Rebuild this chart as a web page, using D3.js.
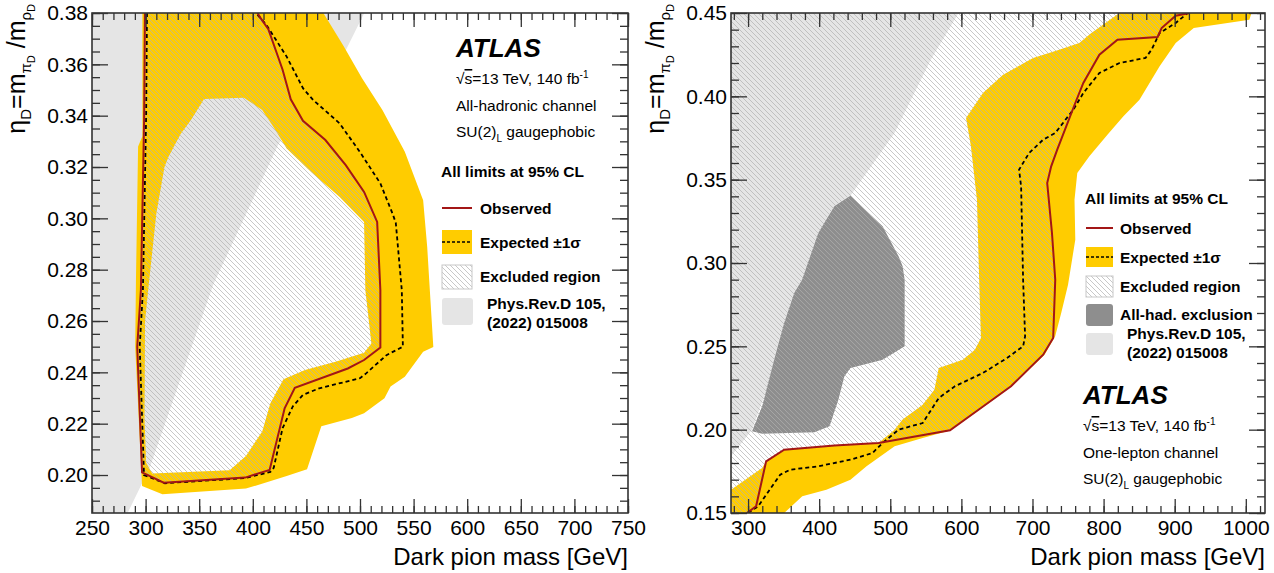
<!DOCTYPE html>
<meta charset="utf-8">
<style>
body { margin: 0; background: white; }
text { font-family: "Liberation Sans", Arial, sans-serif; fill: #000; }
</style>
<body>
<script src="https://cdn.jsdelivr.net/npm/d3@7/dist/d3.min.js"></script>
<script>
// ---- left panel: all-hadronic channel ----
var hadXTicks = [250, 300, 350, 400, 450, 500, 550, 600, 650, 700, 750]
var hadYTicks = [0.20, 0.22, 0.24, 0.26, 0.28, 0.30, 0.32, 0.34, 0.36, 0.38]

// Phys.Rev.D 105 (2022) 015008 exclusion
var hadPrd = [[250, 0.185], [283, 0.185], [304, 0.203], [363, 0.274], [424, 0.329],
    [485, 0.364], [504, 0.38], [250, 0.38]]

var hadObs = [[299.4, 0.38], [298.6, 0.338], [295.6, 0.272], [292.2, 0.25], [296.7, 0.201],
    [316.9, 0.197], [392.9, 0.199], [415.7, 0.202], [429.7, 0.226], [439.2, 0.234],
    [488.6, 0.2415], [503.8, 0.2448], [519, 0.2497], [519, 0.272], [516, 0.2986],
    [503.8, 0.3103], [486.7, 0.3207], [467.7, 0.3305], [446.8, 0.338], [435.4, 0.3464],
    [427.8, 0.3579], [414.5, 0.3737], [407.3, 0.378], [404.3, 0.38]]

var hadExp = [[301.3, 0.38], [300.5, 0.34], [297.5, 0.272], [294.5, 0.25], [298.5, 0.2],
    [318, 0.1968], [392.6, 0.1988], [416.4, 0.2012], [419.5, 0.2028], [427.8, 0.2183],
    [437.3, 0.2267], [446.8, 0.2312], [462, 0.2338], [500, 0.2377], [505.7, 0.2396],
    [524.7, 0.2467], [540, 0.25], [539, 0.272], [533.4, 0.2982], [530.4, 0.3018],
    [519, 0.3136], [500.8, 0.3253], [481, 0.337], [456.3, 0.3461], [446.8, 0.3507],
    [431.6, 0.363], [412.6, 0.3754], [403, 0.38]]

var hadBandOuter = [[297, 0.38], [297, 0.332], [293, 0.328], [291, 0.2757], [290.3, 0.25],
    [296.7, 0.1957], [315.7, 0.1925], [393.6, 0.1947], [431.6, 0.1996], [450.6, 0.2022],
    [463.9, 0.219], [492.4, 0.2222], [503.8, 0.2241], [522.8, 0.2299], [528.5, 0.2345],
    [541.8, 0.2383], [558.9, 0.248], [568.4, 0.2499], [564.6, 0.2757], [562.7, 0.2888],
    [558.9, 0.307], [541.8, 0.3259], [520.9, 0.3422], [501.9, 0.3546], [484.8, 0.367],
    [465.8, 0.38]]

var hadBandInner = [[354.5, 0.3465], [391.7, 0.347], [408.8, 0.3422], [420.2, 0.335],
    [431.6, 0.3272], [454.4, 0.3181], [481, 0.3083], [503.8, 0.2986], [505, 0.272],
    [510.6, 0.2512], [503.8, 0.2476], [477.2, 0.2441], [448.7, 0.2409], [428.6, 0.2373],
    [416.4, 0.228], [408.8, 0.217], [393.6, 0.2074], [378.4, 0.2019], [306.2, 0.2006],
    [300.5, 0.2048], [299, 0.222], [299.5, 0.26], [302.4, 0.272], [310, 0.3018],
    [317.6, 0.32], [321.4, 0.324], [332.8, 0.333], [342.3, 0.3383]]

// ---- right panel: one-lepton channel ----
var lepXTicks = [300, 400, 500, 600, 700, 800, 900, 1000]
var lepYTicks = [0.15, 0.20, 0.25, 0.30, 0.35, 0.40, 0.45]

var lepPrd = [[276, 0.184], [305.6, 0.2], [340, 0.24], [400, 0.29], [444, 0.3404],
    [506, 0.378], [557, 0.422], [596, 0.45], [276, 0.45]]

var lepAllHad = [[444, 0.3404], [489.2, 0.322], [511.7, 0.304], [517.4, 0.298], [520.2, 0.29],
    [520.2, 0.25], [489.2, 0.242], [444, 0.237], [435.5, 0.232], [427, 0.218],
    [414.6, 0.202], [393.2, 0.1984], [319.8, 0.1976], [305.6, 0.199], [319.8, 0.214],
    [336.7, 0.242], [350.8, 0.264], [365, 0.282], [376, 0.29], [398.8, 0.318], [421.4, 0.334]]

var lepObs = [[298.3, 0.15], [311.3, 0.154], [325.4, 0.181], [350.8, 0.188], [421.4, 0.1905],
    [483.5, 0.192], [584, 0.1996], [627.5, 0.213], [669.8, 0.226], [715, 0.245],
    [729.1, 0.255], [732, 0.29], [727.4, 0.318], [720.7, 0.348], [726.3, 0.358],
    [734.8, 0.368], [760.2, 0.396], [771.5, 0.408], [794.1, 0.425], [819.5, 0.434],
    [876, 0.4356], [881.6, 0.441], [901.4, 0.4484], [921.1, 0.45]]

var lepExp = [[300, 0.15], [314.1, 0.154], [345.2, 0.173], [359.3, 0.176], [398.8, 0.178],
    [444, 0.182], [475, 0.186], [489.2, 0.192], [511.7, 0.2], [545.6, 0.204],
    [568.2, 0.219], [590.8, 0.226], [630.3, 0.234], [664.2, 0.243], [686.8, 0.25],
    [689.6, 0.256], [686.8, 0.29], [684, 0.346], [681.1, 0.356], [695.3, 0.366],
    [715, 0.374], [732, 0.378], [757.4, 0.392], [771.5, 0.402], [794.1, 0.414],
    [822.3, 0.42], [859, 0.423], [867.5, 0.428], [878.8, 0.438], [901.4, 0.444], [918.3, 0.45]]

var lepBand = [[276, 0.15], [276, 0.164], [319.8, 0.177], [325.4, 0.181], [350.8, 0.188],
    [421.4, 0.1905], [483.5, 0.192], [506, 0.2], [517, 0.206], [545.6, 0.215], [562, 0.224],
    [568.2, 0.237], [602.1, 0.242], [619, 0.248], [627.5, 0.255], [625, 0.29], [621.9, 0.338],
    [613.4, 0.37], [606.6, 0.387], [630.3, 0.402], [658.6, 0.413], [700.9, 0.423],
    [737.6, 0.428], [765.8, 0.432], [782.8, 0.438], [822.3, 0.45], [1008, 0.45],
    [1005, 0.446], [926.8, 0.441], [901.4, 0.432], [878.8, 0.418], [850.5, 0.398], [827.9, 0.388],
    [805.4, 0.377], [780, 0.364], [763, 0.354], [759.1, 0.338], [760.2, 0.314],
    [750, 0.287], [740.4, 0.27], [731.9, 0.256], [717, 0.245], [671, 0.226], [629, 0.213],
    [585, 0.1996], [545.6, 0.195], [506.1, 0.19], [466.6, 0.178], [444, 0.17],
    [410.1, 0.164], [376.2, 0.16], [350.8, 0.15]]

var YELLOW = '#ffcc00'
var LIGHT = '#e5e5e5'
var DARK = '#8e8e8e'
var RED = '#a31616'

var svg = d3.select('body').append('svg').attr('width', 1274).attr('height', 573)
var defs = svg.append('defs')

defs.append('pattern')
    .attr('id', 'hatch')
    .attr('patternUnits', 'userSpaceOnUse')
    .attr('width', 5)
    .attr('height', 5)
    .append('path')
    .attr('d', 'M-1,-1 L6,6 M-1,4 L1,6 M4,-1 L6,1')
    .attr('stroke', '#b0b0b0')
    .attr('stroke-width', 0.7)

function panel(o) {
    var x = d3.scaleLinear().domain(o.xDomain).range([o.left, o.right])
    var y = d3.scaleLinear().domain(o.yDomain).range([o.bottom, o.top])

    defs.append('clipPath').attr('id', 'clip-' + o.name)
        .append('rect')
        .attr('x', o.left).attr('y', o.top)
        .attr('width', o.right - o.left).attr('height', o.bottom - o.top)

    var g = svg.append('g')
    var plot = g.append('g').attr('clip-path', 'url(#clip-' + o.name + ')')
    var line = d3.line().x(function (d) { return x(d[0]) }).y(function (d) { return y(d[1]) })

    return { o: o, x: x, y: y, g: g, plot: plot, line: line }
}

function minorTicks(domain, step) {
    var out = []
    var k = Math.ceil(domain[0] / step - 1e-6)
    while (k * step <= domain[1] + 1e-9) {
        out.push(+(k * step).toFixed(4))
        k++
    }
    return out
}

function axes(p) {
    var o = p.o
    var xMinor = minorTicks(o.xDomain, o.xMinor)
    var yMinor = minorTicks(o.yDomain, o.yMinor)

    function style(sel) {
        sel.select('.domain').remove()
        sel.selectAll('line').attr('stroke', '#333').attr('stroke-width', 1.3)
        sel.selectAll('text').style('font-size', '21px').style('font-family', '"Liberation Sans", Arial, sans-serif')
        sel.attr('font-family', null).attr('font-size', null)
    }

    p.g.append('g').attr('transform', 'translate(0,' + o.bottom + ')')
        .call(d3.axisBottom(p.x).tickValues(xMinor).tickSize(-7).tickFormat('')).call(style)
    p.g.append('g').attr('transform', 'translate(0,' + o.bottom + ')')
        .call(d3.axisBottom(p.x).tickValues(o.xTicks).tickSize(-14).tickPadding(7).tickFormat(d3.format('d'))).call(style)
    p.g.append('g').attr('transform', 'translate(0,' + o.top + ')')
        .call(d3.axisTop(p.x).tickValues(xMinor).tickSize(-7).tickFormat('')).call(style)
    p.g.append('g').attr('transform', 'translate(0,' + o.top + ')')
        .call(d3.axisTop(p.x).tickValues(o.xTicks).tickSize(-14).tickFormat('')).call(style)

    p.g.append('g').attr('transform', 'translate(' + o.left + ',0)')
        .call(d3.axisLeft(p.y).tickValues(yMinor).tickSize(-8).tickFormat('')).call(style)
    p.g.append('g').attr('transform', 'translate(' + o.left + ',0)')
        .call(d3.axisLeft(p.y).tickValues(o.yTicks).tickSize(-16).tickPadding(4).tickFormat(d3.format('.2f'))).call(style)
    p.g.append('g').attr('transform', 'translate(' + o.right + ',0)')
        .call(d3.axisRight(p.y).tickValues(yMinor).tickSize(-8).tickFormat('')).call(style)
    p.g.append('g').attr('transform', 'translate(' + o.right + ',0)')
        .call(d3.axisRight(p.y).tickValues(o.yTicks).tickSize(-16).tickFormat('')).call(style)

    p.g.append('rect')
        .attr('x', o.left).attr('y', o.top)
        .attr('width', o.right - o.left).attr('height', o.bottom - o.top)
        .attr('fill', 'none').attr('stroke', '#333').attr('stroke-width', 1.6)

    p.g.append('text')
        .attr('x', o.right).attr('y', 565)
        .attr('text-anchor', 'end')
        .style('font-size', '24px')
        .text('Dark pion mass [GeV]')

    // eta_D = m_{pi_D} / m_{rho_D}
    var t = p.g.append('text')
        .attr('transform', 'translate(' + (o.left - 67) + ',4) rotate(-90)')
        .attr('text-anchor', 'end')
        .style('font-size', '25px')
    t.append('tspan').text('η')
    t.append('tspan').attr('dy', 6).style('font-size', '15px').text('D')
    t.append('tspan').attr('dy', -6).text('=m')
    t.append('tspan').attr('dy', 6).style('font-size', '15px').text('π')
    t.append('tspan').attr('dy', 4).style('font-size', '11px').text('D')
    t.append('tspan').attr('dy', -10).text(' /m')
    t.append('tspan').attr('dy', 6).style('font-size', '15px').text('ρ')
    t.append('tspan').attr('dy', 4).style('font-size', '11px').text('D')
}

function curves(p, obs, exp) {
    p.plot.append('path').attr('d', p.line(exp))
        .attr('fill', 'none').attr('stroke', '#000').attr('stroke-width', 1.8).attr('stroke-dasharray', '4,3')
    p.plot.append('path').attr('d', p.line(obs))
        .attr('fill', 'none').attr('stroke', RED).attr('stroke-width', 2)
}

function label(x, y, str, opts) {
    opts = opts || {}
    return svg.append('text').attr('x', x).attr('y', y)
        .style('font-size', (opts.size || 15.5) + 'px')
        .style('font-weight', opts.bold ? 'bold' : null)
        .style('font-style', opts.italic ? 'italic' : null)
        .text(str)
}

function infoBlock(x, y0, channel) {
    label(x, y0, 'ATLAS', { size: 26, bold: true, italic: true })
    var t = label(x, y0 + 27, '√')
    t.append('tspan').style('text-decoration', 'overline').text('s')
    t.append('tspan').text('=13 TeV, 140 fb')
    t.append('tspan').attr('dy', -6).style('font-size', '10px').text('-1')
    label(x, y0 + 54, channel)
    var s = label(x, y0 + 80, 'SU(2)')
    s.append('tspan').attr('dy', 5).style('font-size', '10px').text('L')
    s.append('tspan').attr('dy', -5).text(' gaugephobic')
}

function legend(x, yLimits, rows) {
    label(x, yLimits, 'All limits at 95% CL', { bold: true })
    rows.forEach(function (r) {
        var bx = x + 1
        var bw = r.w
        if (r.kind === 'line') {
            svg.append('line').attr('x1', bx).attr('x2', bx + bw).attr('y1', r.y - 6).attr('y2', r.y - 6)
                .attr('stroke', RED).attr('stroke-width', 2)
        } else if (r.kind === 'band') {
            svg.append('rect').attr('x', bx).attr('y', r.top).attr('width', bw).attr('height', r.h).attr('fill', YELLOW)
            svg.append('line').attr('x1', bx).attr('x2', bx + bw).attr('y1', r.top + r.h / 2).attr('y2', r.top + r.h / 2)
                .attr('stroke', '#000').attr('stroke-width', 1.3).attr('stroke-dasharray', '3,2')
        } else if (r.kind === 'hatch') {
            svg.append('rect').attr('x', bx).attr('y', r.top).attr('width', bw).attr('height', r.h)
                .attr('fill', 'url(#hatch)').attr('stroke', '#c8c8c8').attr('stroke-width', 1)
        } else {
            svg.append('rect').attr('x', bx).attr('y', r.top).attr('width', bw).attr('height', r.h)
                .attr('rx', 3).attr('fill', r.fill)
        }
        r.text.forEach(function (s, i) {
            label(r.tx, r.y + i * 19, s, { bold: true })
        })
    })
}

// ---- left panel ----
var had = panel({
    name: 'had', left: 92, right: 628, top: 13, bottom: 513,
    xDomain: [250, 750], yDomain: [0.1852, 0.38],
    xTicks: hadXTicks, yTicks: hadYTicks, xMinor: 10, yMinor: 0.005
})

had.plot.append('path').attr('d', had.line(hadPrd) + 'Z').attr('fill', LIGHT)
had.plot.append('path')
    .attr('d', had.line(hadBandOuter) + 'Z' + had.line(hadBandInner) + 'Z')
    .attr('fill', YELLOW).attr('fill-rule', 'evenodd')
had.plot.append('path').attr('d', had.line(hadObs) + 'Z').attr('fill', 'url(#hatch)')
curves(had, hadObs, hadExp)
axes(had)

infoBlock(456, 57, 'All-hadronic channel')
legend(441, 177, [
    { kind: 'line', y: 214, tx: 480, w: 30, text: ['Observed'] },
    { kind: 'band', y: 248, top: 230, h: 24, tx: 480, w: 30, text: ['Expected  ±1σ'] },
    { kind: 'hatch', y: 282, top: 265, h: 24, tx: 480, w: 30, text: ['Excluded region'] },
    { kind: 'box', fill: LIGHT, y: 309, top: 298, h: 27, tx: 487, w: 31, text: ['Phys.Rev.D 105,', '(2022) 015008'] }
])

// ---- right panel ----
var lep = panel({
    name: 'lep', left: 731, right: 1265, top: 13, bottom: 513,
    xDomain: [276, 1027], yDomain: [0.15, 0.45],
    xTicks: lepXTicks, yTicks: lepYTicks, xMinor: 20, yMinor: 0.01
})

lep.plot.append('path').attr('d', lep.line(lepPrd) + 'Z').attr('fill', LIGHT)
lep.plot.append('path').attr('d', lep.line(lepAllHad) + 'Z').attr('fill', DARK)
lep.plot.append('path').attr('d', lep.line(lepBand) + 'Z').attr('fill', YELLOW)
lep.plot.append('path')
    .attr('d', lep.line([[276, 0.15]].concat(lepObs, [[276, 0.45]])) + 'Z')
    .attr('fill', 'url(#hatch)')
curves(lep, lepObs, lepExp)
axes(lep)

legend(1085, 204, [
    { kind: 'line', y: 234, tx: 1120, w: 27, text: ['Observed'] },
    { kind: 'band', y: 263, top: 247, h: 20, tx: 1120, w: 27, text: ['Expected  ±1σ'] },
    { kind: 'hatch', y: 292, top: 276, h: 21, tx: 1120, w: 27, text: ['Excluded region'] },
    { kind: 'box', fill: DARK, y: 320, top: 304, h: 22, tx: 1120, w: 27, text: ['All-had. exclusion'] },
    { kind: 'box', fill: LIGHT, y: 339, top: 333, h: 22, tx: 1127, w: 27, text: ['Phys.Rev.D 105,', '(2022) 015008'] }
])
infoBlock(1083, 404, 'One-lepton channel')
</script>
</body>
